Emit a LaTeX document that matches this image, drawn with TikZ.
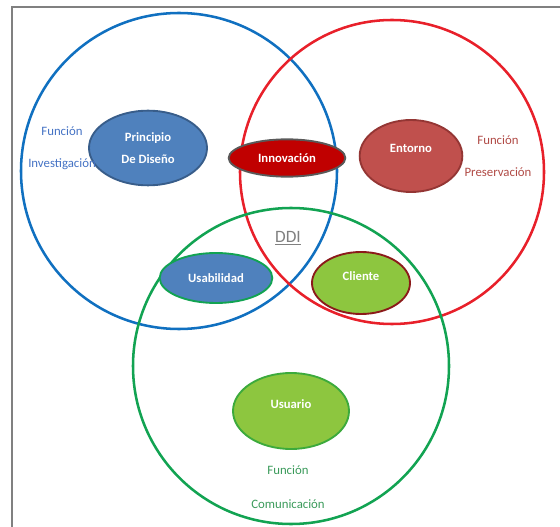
\documentclass[tikz,border=0pt]{standalone}
\usepackage{fontspec}
\setmainfont{Carlito}
\usetikzlibrary{shapes.geometric}

\definecolor{azulAro}{HTML}{1070C0}
\definecolor{rojoAro}{HTML}{E8202A}
\definecolor{verdeAro}{HTML}{12A352}
\definecolor{azulRelleno}{HTML}{4F81BD}
\definecolor{azulBorde}{HTML}{385D8A}
\definecolor{rojoOscuro}{HTML}{C00000}
\definecolor{grisBorde}{HTML}{595959}
\definecolor{rojoRelleno}{HTML}{C0504D}
\definecolor{rojoBorde}{HTML}{943634}
\definecolor{verdeRelleno}{HTML}{8DC63F}
\definecolor{verdeBorde}{HTML}{3CAA3C}
\definecolor{granate}{HTML}{8B1A1A}
\definecolor{azulTexto}{HTML}{4472C4}
\definecolor{rojoTexto}{HTML}{B04A45}
\definecolor{verdeTexto}{HTML}{3A9A5A}

\tikzset{
  aro/.style={line width=1.9pt},
  mancha/.style={ellipse,line width=1.4pt,inner sep=0pt},
  blanco/.style={text=white,font=\bfseries\fontsize{9.5}{16}\selectfont,align=center},
  rotulo/.style={font=\fontsize{9.6}{11}\selectfont}
}

\begin{document}
\begin{tikzpicture}[x=0.75pt,y=-0.75pt]
        \useasboundingbox (0,0) rectangle (560,527);

        % Paso 1: Marco gris
        \coordinate (M1) at (12,527);
        \coordinate (M2) at (12,7);
        \coordinate (M3) at (560,7);
        \draw[gray,line width=1.2pt] (M1) -- (M2) -- (M3);

        % Paso 2: Centros de los tres aros
        \coordinate (Investigacion) at (179,171);
        \coordinate (Preservacion) at (392,172);
        \coordinate (Comunicacion) at (291,366);

        % Paso 3: Dibuja los aros
        \draw[aro,azulAro] (Investigacion) circle (158);
        \draw[aro,rojoAro] (Preservacion) circle (152);
        \draw[aro,verdeAro] (Comunicacion) circle (158);

        % Paso 4: Dibuja las elipses
        \node[mancha,fill=azulRelleno,draw=azulBorde,minimum width=88.5pt,minimum height=56pt,
              label={[blanco]center:Principio\\De Diseño}] (principio) at (148,148) {};
        \node[mancha,fill=rojoOscuro,draw=grisBorde,minimum width=87.5pt,minimum height=28pt,
              label={[blanco]center:Innovación}] (innovacion) at (287,158) {};
        \node[mancha,fill=rojoRelleno,draw=rojoBorde,minimum width=77pt,minimum height=54pt,
              label={[blanco,yshift=6pt]center:Entorno}] (entorno) at (411,156) {};
        \node[mancha,fill=azulRelleno,draw=verdeAro,minimum width=84.5pt,minimum height=37.5pt,
              label={[blanco]center:Usabilidad}] (usabilidad) at (216,278) {};
        \node[mancha,fill=verdeRelleno,draw=granate,minimum width=73.5pt,minimum height=46.5pt,
              label={[blanco,yshift=5pt]center:Cliente}] (cliente) at (361,283) {};
        \node[mancha,fill=verdeRelleno,draw=verdeBorde,minimum width=87pt,minimum height=57pt,
              label={[blanco,yshift=5pt]center:Usuario}] (usuario) at (291,411) {};

        % Paso 5: Textos de cada función
        \node[rotulo,text=azulTexto] (funcionA) at (62,131) {Función};
        \node[rotulo,text=azulTexto] (investigacion) at (62,164) {Investigación};
        \node[rotulo,text=rojoTexto] (funcionB) at (498,140) {Función};
        \node[rotulo,text=rojoTexto] (preservacion) at (498,172) {Preservación};
        \node[rotulo,text=verdeTexto] (funcionC) at (288,470) {Función};
        \node[rotulo,text=verdeTexto] (comunicacion) at (288,504) {Comunicación};

        % Paso 6: Rótulo central
        \node[font=\fontsize{13}{15}\selectfont,text=gray] (ddi) at (288,238) {\underline{DDI}};
    \end{tikzpicture}
\end{document}
